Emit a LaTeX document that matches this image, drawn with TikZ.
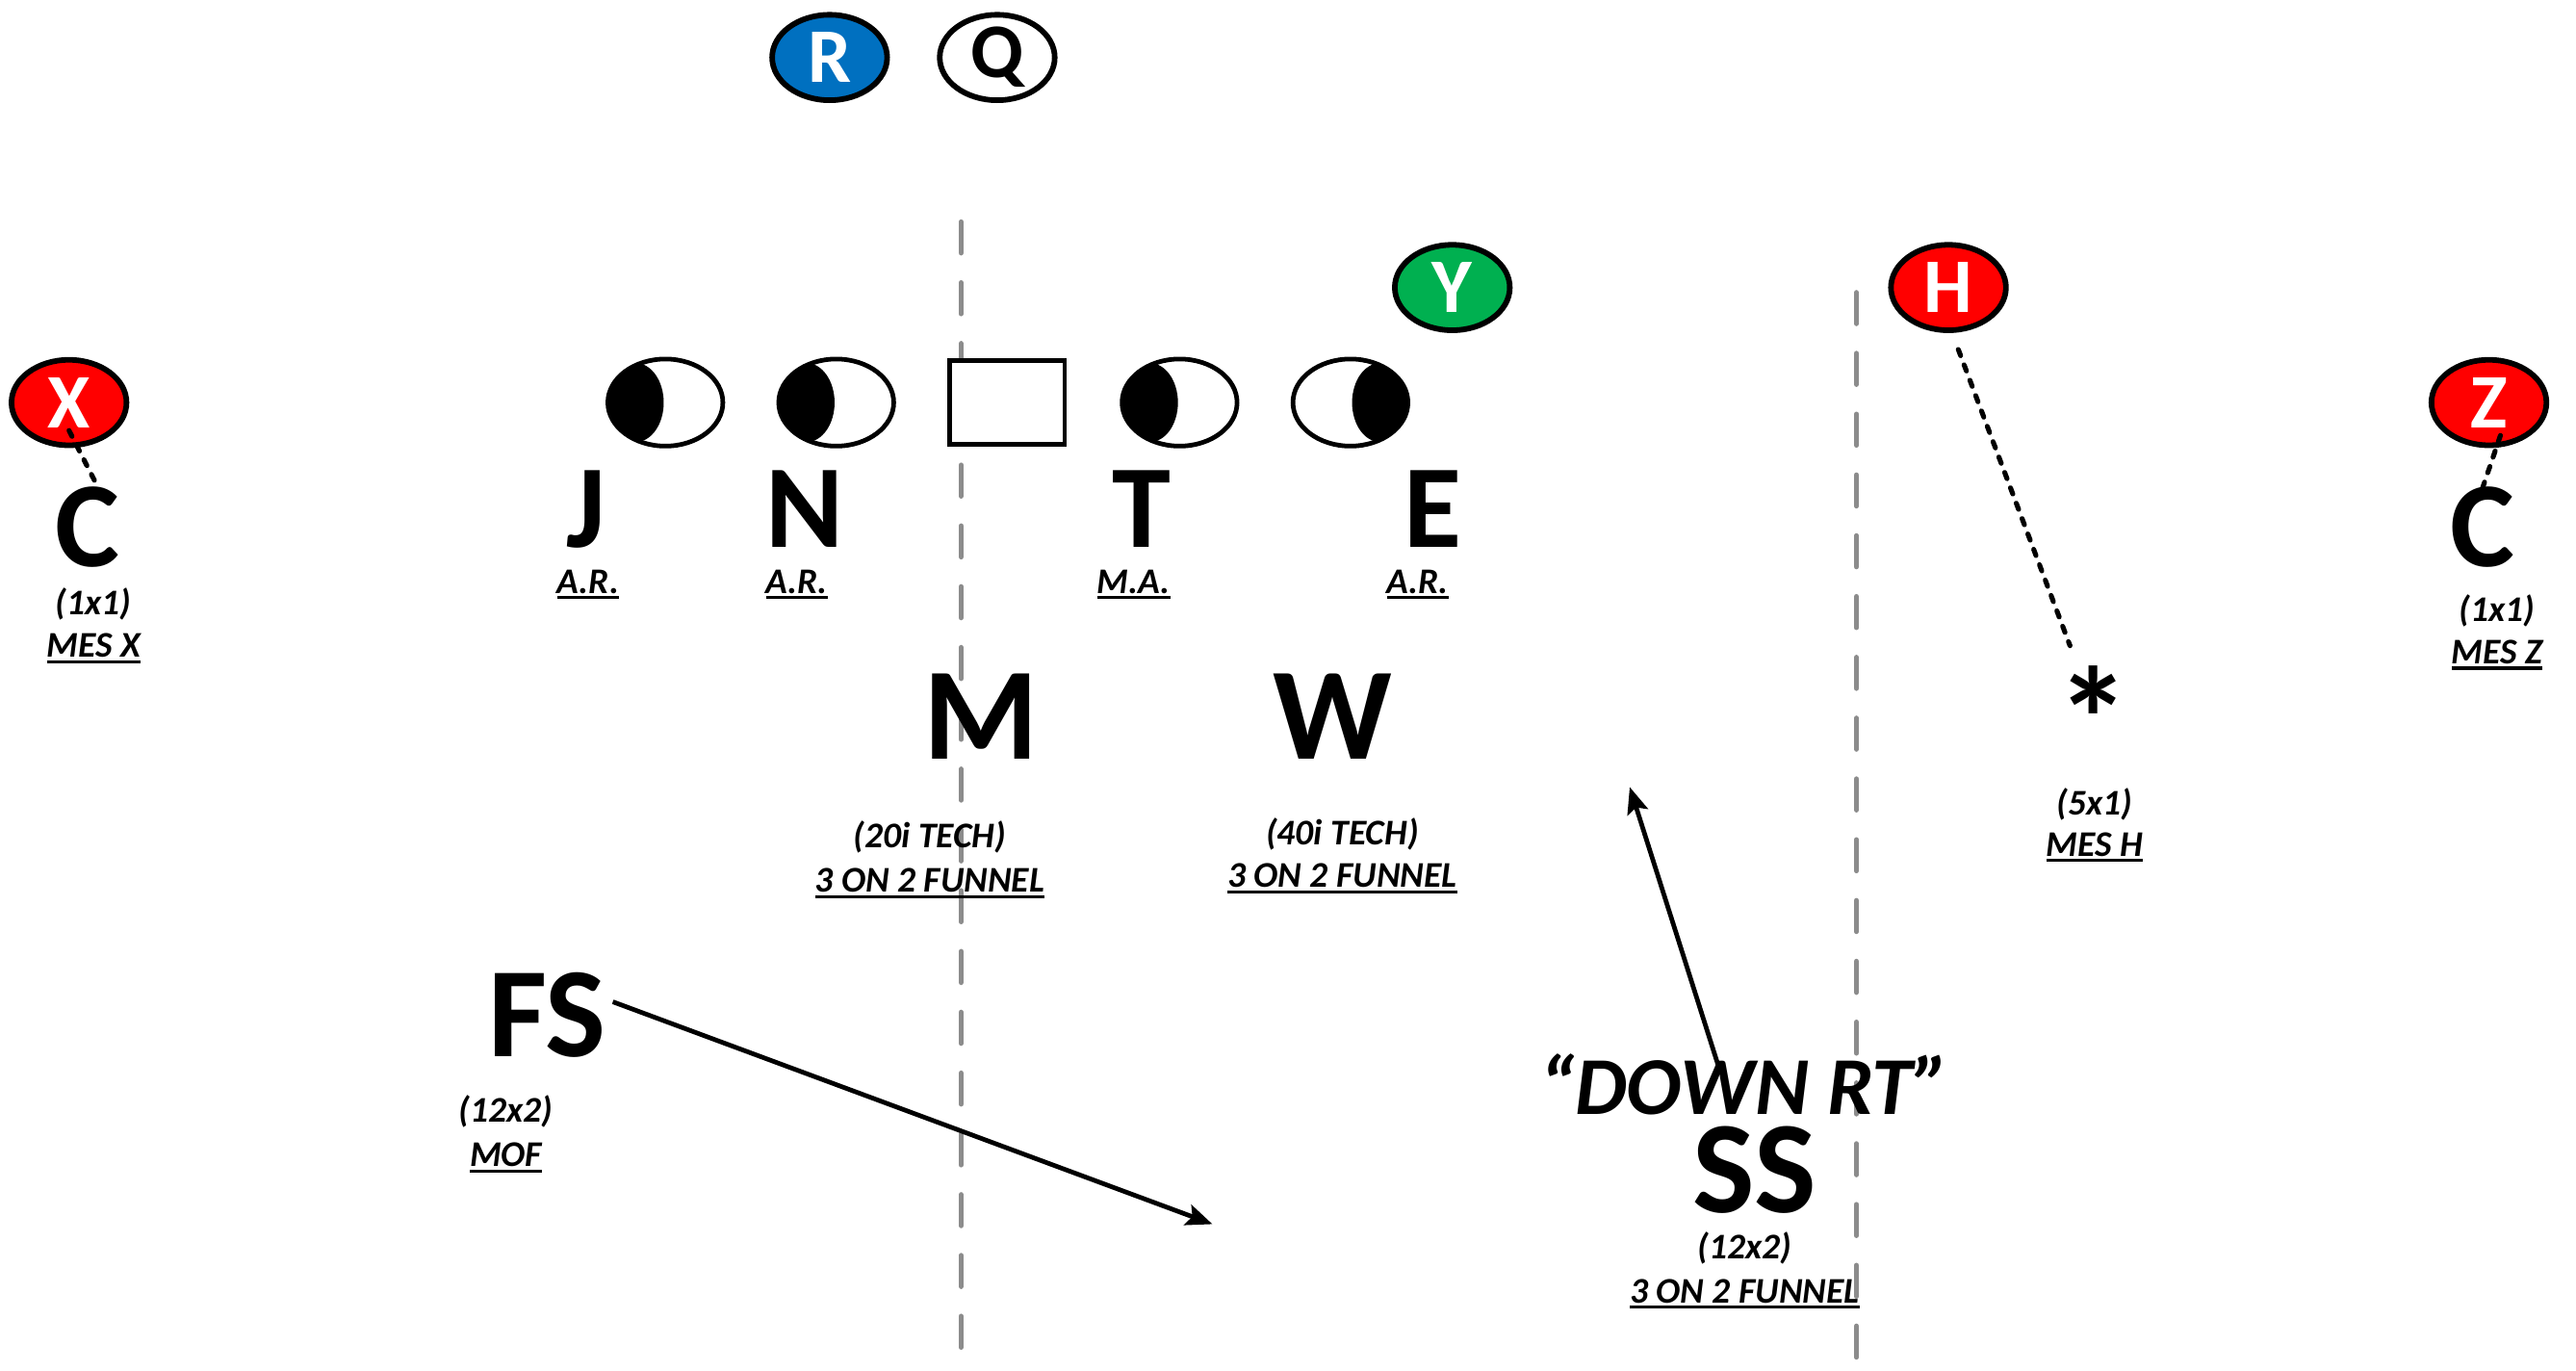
\documentclass[tikz,border=0pt]{standalone}
\usepackage{fontspec}
\setmainfont{Carlito}
\usetikzlibrary{shapes.geometric,arrows.meta,calc}
\definecolor{offred}{HTML}{FF0000}
\definecolor{offblue}{HTML}{0070C0}
\definecolor{offgreen}{HTML}{00B050}
\definecolor{fieldgray}{HTML}{8C8C8C}
% text with a heavy underline
\newcommand{\undl}[1]{\vtop{\hbox{#1}\kern1.6pt\hrule height 1.8pt}}

\begin{document}
\begin{tikzpicture}[x=1pt,y=-1pt,
  player/.style={ellipse, draw=black, line width=3.4pt, minimum width=70pt,
    minimum height=52pt, inner sep=0pt, text=white,
    font=\fontsize{47}{47}\selectfont\bfseries},
  dlbase/.style={ellipse, draw=black, fill=white, line width=2.8pt,
    minimum width=70pt, minimum height=53pt, inner sep=0pt},
  dleft/.style={dlbase, path picture={\fill[black]
    ($(path picture bounding box.west)+(17,0)$) ellipse [x radius=17pt, y radius=24pt];}},
  dright/.style={dlbase, path picture={\fill[black]
    ($(path picture bounding box.east)+(-17,0)$) ellipse [x radius=17pt, y radius=24pt];}},
  centerbox/.style={draw=black, fill=white, line width=2.8pt, minimum width=70pt,
    minimum height=51pt, inner sep=0pt},
  bigl/.style={anchor=base, inner sep=0pt, font=\fontsize{72}{72}\selectfont\bfseries},
  hugel/.style={anchor=base, inner sep=0pt, font=\fontsize{80}{80}\selectfont\bfseries},
  note/.style={anchor=base, inner sep=0pt, font=\fontsize{22}{22}\selectfont\bfseries\itshape},
  yardline/.style={draw=fieldgray, line width=3pt, line cap=round,
    dash pattern=on 19pt off 18pt},
  motion/.style={draw=black, line width=3pt, line cap=round,
    dash pattern=on 4pt off 6pt},
  route/.style={draw=black, line width=2.8pt,
    -{Stealth[length=16pt,width=13pt,inset=3pt]}}
]
\useasboundingbox (0,0) rectangle (1568,834);

% field lines
\coordinate (ya) at (585,135);
\coordinate (yb) at (585,834);
\coordinate (yc) at (1130,178);
\coordinate (yd) at (1130,834);
\draw[yardline] (ya) -- (yb);
\draw[yardline] (yc) -- (yd);

% offense
\node[player, fill=offblue] (R) at (505,35) {R};
\node[player, fill=white, text=black] (Q) at (607,35) {Q};
\node[player, fill=offgreen] (Y) at (884,175) {Y};
\node[player, fill=offred] (H) at (1186,175) {H};
\node[player, fill=offred] (X) at (42,245) {X};
\node[player, fill=offred] (Z) at (1515,245) {Z};

\node[dleft] (dJ) at (405,245) {};
\node[dleft] (dN) at (509,245) {};
\node[centerbox] (ctr) at (613,245) {};
\node[dleft] (dT) at (718,245) {};
\node[dright] (dE) at (822,245) {};

% defensive front
\node[bigl] (J) at (357,333) {J};
\node[bigl] (N) at (490,333) {N};
\node[bigl] (T) at (695,333) {T};
\node[bigl] (E) at (872,333) {E};
\node[note] (Jr) at (358,361) {\undl{A.R.}};
\node[note] (Nr) at (485,361) {\undl{A.R.}};
\node[note] (Tr) at (690,361) {\undl{M.A.}};
\node[note] (Er) at (863,361) {\undl{A.R.}};

% corners
\node[bigl, font=\fontsize{74}{74}\selectfont\bfseries] (CL) at (53,345) {C};
\node[note] (CLa) at (57,374) {(1x1)};
\node[note] (CLb) at (57,400) {\undl{MES X}};
\node[bigl, font=\fontsize{74}{74}\selectfont\bfseries] (CR) at (1511,345) {C};
\node[note] (CRa) at (1520,378) {(1x1)};
\node[note] (CRb) at (1520,404) {\undl{MES Z}};

% nickel on H
\node[anchor=north, inner sep=0pt, font=\fontsize{90}{90}\selectfont\bfseries] (ast) at (1274,405) {*};
\node[note] (Ha) at (1275,496) {(5x1)};
\node[note] (Hb) at (1275,521) {\undl{MES H}};

% linebackers
\node[hugel] (M) at (597,462) {M};
\node[hugel] (W) at (811,462) {W};
\node[note] (Ma) at (566,516) {(20i TECH)};
\node[note] (Mb) at (566,543) {\undl{3 ON 2 FUNNEL}};
\node[note] (Wa) at (817,514) {(40i TECH)};
\node[note] (Wb) at (817,540) {\undl{3 ON 2 FUNNEL}};

% safeties
\node[bigl, font=\fontsize{78}{78}\selectfont\bfseries] (FS) at (333,643) {FS};
\node[note] (FSa) at (308,683) {(12x2)};
\node[note] (FSb) at (308,710) {\undl{MOF}};
\node[anchor=base, inner sep=0pt, font=\fontsize{50}{50}\selectfont\bfseries\itshape]
  (down) at (1062,678) {“DOWN RT”};
\node[hugel] (SS) at (1068,738) {SS};
\node[note] (SSa) at (1062,766) {(12x2)};
\node[note] (SSb) at (1062,793) {\undl{3 ON 2 FUNNEL}};

% motion and assignments
\draw[motion] ($(X.center)+(0,17)$) -- ($(CL.north)+(7,1)$);
\draw[motion] ($(Z.center)+(7,20)$) -- ($(CR.north)+(-1,4)$);
\draw[motion] ($(H.south)+(6,10)$) -- ($(ast.north)+(-14,-12)$);

\coordinate (fsto) at (738,745);
\coordinate (ssfrom) at (1047,652);
\coordinate (ssto) at (992,479);
\draw[route] ($(FS.east)+(4,-8)$) -- (fsto);
\draw[route] (ssfrom) -- (ssto);
\end{tikzpicture}
\end{document}
